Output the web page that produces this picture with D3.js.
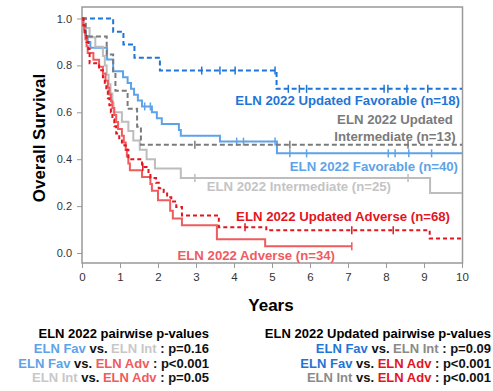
<!DOCTYPE html>
<meta charset="utf-8">
<style>
    body { margin: 0; background: #fff; }
    text { font-family: "Liberation Sans", Arial, sans-serif; }
    .curve { fill: none; stroke-width: 2px; }
    .axis path, .axis line { stroke: #999; }
    .axis text { fill: #333; font-size: 11px; }
</style>
<svg width="493" height="391"></svg>
<script src="https://d3js.org/d3.v7.min.js"></script>
<script>

    // Kaplan-Meier steps: step times (years) and survival
    var updFavT = [0, 0.82, 1.09, 1.38, 2.05, 5.12];
    var updFavS = [1, 0.944, 0.889, 0.833, 0.778, 0.70];
    var updFavC = [3.15, 3.63, 4.03, 5.08, 5.43, 5.72, 5.91, 7.95, 8.05, 8.55, 9.1];

    var favT = [0, 0.03, 0.06, 0.1, 0.15, 0.22, 0.66, 0.82, 1.08, 1.2, 1.29, 1.37, 1.47, 1.58, 1.84, 1.97, 2.1, 2.55, 2.6, 3.63, 5.13];
    var favS = [1, 0.975, 0.95, 0.925, 0.9, 0.875, 0.825, 0.775, 0.75, 0.725, 0.7, 0.675, 0.65, 0.625, 0.6, 0.575, 0.55, 0.525, 0.5, 0.475, 0.425];
    var favC = [1.65, 1.8, 4.07, 4.25, 5.08, 5.47, 5.91, 8.06, 8.24, 8.6, 9.2];

    var updIntT = [0, 0.1, 0.65, 0.82, 0.88, 1.2, 1.45, 1.55];
    var updIntS = [1, 0.923, 0.846, 0.769, 0.692, 0.615, 0.538, 0.462];
    var updIntC = [2.97, 5.47, 8.58];

    var intT = [0, 0.05, 0.2, 0.35, 0.55, 0.6, 0.65, 0.7, 0.75, 0.8, 0.83, 1.05, 1.22, 1.35, 1.52, 1.7, 1.92, 2.6, 9.16];
    var intS = [1, 0.96, 0.92, 0.88, 0.84, 0.80, 0.76, 0.72, 0.68, 0.64, 0.60, 0.56, 0.52, 0.48, 0.44, 0.40, 0.36, 0.32, 0.256];
    var intC = [2.97, 8.58];

    var updAdvT = [0, 0.04, 0.08, 0.12, 0.17, 0.2, 0.45, 0.55, 0.6, 0.64, 0.68, 0.72, 0.76, 0.8, 0.85, 0.9, 0.98, 1.05, 1.15, 1.22, 1.58, 1.75, 1.8, 1.95, 2.02, 2.15, 2.24, 2.35, 2.48, 2.63, 3.6, 4.85, 9.15];
    var updAdvS = [1, 0.97, 0.94, 0.90, 0.87, 0.809, 0.779, 0.75, 0.72, 0.69, 0.66, 0.63, 0.60, 0.57, 0.54, 0.51, 0.48, 0.46, 0.44, 0.40, 0.367, 0.34, 0.32, 0.30, 0.276, 0.26, 0.238, 0.22, 0.196, 0.16, 0.11, 0.097, 0.062];
    var updAdvC = [1.6, 4.29, 7.1, 8.19];

    var advT = [0, 0.03, 0.06, 0.09, 0.12, 0.15, 0.3, 0.45, 0.55, 0.62, 0.68, 0.72, 0.76, 0.8, 0.85, 0.9, 0.95, 1.05, 1.1, 1.15, 1.18, 1.22, 1.26, 1.58, 1.8, 1.84, 2.0, 2.32, 2.39, 2.63, 3.55, 4.82];
    var advS = [1, 0.971, 0.941, 0.912, 0.882, 0.853, 0.824, 0.794, 0.765, 0.735, 0.706, 0.676, 0.647, 0.618, 0.588, 0.559, 0.529, 0.5, 0.471, 0.441, 0.412, 0.382, 0.353, 0.324, 0.294, 0.265, 0.225, 0.18, 0.147, 0.118, 0.059, 0.029];
    var advC = [7.1];

    var xTicks = [0, 1, 2, 3, 4, 5, 6, 7, 8, 9, 10];
    var yTicks = [0, 0.2, 0.4, 0.6, 0.8, 1.0];

    var series = [
        {name: "ELN 2022 Favorable (n=40)", t: favT, s: favS, c: favC, end: 10, color: "#5ea3e8", dash: null},
        {name: "ELN 2022 Intermediate (n=25)", t: intT, s: intS, c: intC, end: 10, color: "#bdbdbd", dash: null},
        {name: "ELN 2022 Adverse (n=34)", t: advT, s: advS, c: advC, end: 7.1, color: "#ef5b5e", dash: null},
        {name: "ELN 2022 Updated Favorable (n=18)", t: updFavT, s: updFavS, c: updFavC, end: 10, color: "#1f75d6", dash: "5,3"},
        {name: "ELN 2022 Updated Intermediate (n=13)", t: updIntT, s: updIntS, c: updIntC, end: 10, color: "#7a7a7a", dash: "5,3"},
        {name: "ELN 2022 Updated Adverse (n=68)", t: updAdvT, s: updAdvS, c: updAdvC, end: 10, color: "#e3151e", dash: "4,3"}
    ];

    var svg = d3.select("svg");
    var x = d3.scaleLinear().domain([0, 10]).range([82, 462]);
    var y = d3.scaleLinear().domain([0, 1]).range([253, 18.5]);

    // frame
    svg.append("rect")
        .attr("x", 82).attr("y", 7).attr("width", 380.5).attr("height", 256)
        .attr("fill", "none").attr("stroke", "#999").attr("stroke-width", 1.5);

    svg.append("g").attr("class", "axis")
        .attr("transform", "translate(0,263)")
        .call(d3.axisBottom(x).tickValues(xTicks).tickSize(5).tickSizeOuter(0).tickPadding(5))
        .call(function (g) { g.select(".domain").remove(); })
        .selectAll("text").style("font-size", "11.5px");

    svg.append("g").attr("class", "axis")
        .attr("transform", "translate(82,0)")
        .call(d3.axisLeft(y).tickValues(yTicks).tickFormat(d3.format(".1f")).tickSize(5).tickPadding(5))
        .call(function (g) { g.select(".domain").remove(); });

    var line = d3.line()
        .x(function (d) { return x(d[0]); })
        .y(function (d) { return y(d[1]); })
        .curve(d3.curveStepAfter);

    function survAt(sr, t) {
        var i = d3.bisectRight(sr.t, t) - 1;
        return sr.s[Math.max(0, i)];
    }

    series.forEach(function (sr) {
        var pts = sr.t.map(function (t, i) { return [t, sr.s[i]]; });
        pts.push([sr.end, sr.s[sr.s.length - 1]]);
        svg.append("path")
            .attr("class", "curve")
            .attr("d", line(pts))
            .attr("stroke", sr.color)
            .attr("stroke-dasharray", sr.dash);

        svg.append("g").selectAll("line")
            .data(sr.c)
            .enter().append("line")
            .attr("x1", function (d) { return x(d); })
            .attr("x2", function (d) { return x(d); })
            .attr("y1", function (d) { return y(survAt(sr, d)) - 4; })
            .attr("y2", function (d) { return y(survAt(sr, d)) + 4; })
            .attr("stroke", sr.color)
            .attr("stroke-width", 1.5);
    });

    // curve labels
    var labels = [
        {lines: ["ELN 2022 Updated Favorable (n=18)"], x: 460, y: 105, anchor: "end", color: "#1f75d6"},
        {lines: ["ELN 2022 Updated", "Intermediate (n=13)"], x: 395, y: 124, anchor: "middle", color: "#7a7a7a"},
        {lines: ["ELN 2022 Favorable (n=40)"], x: 458, y: 171, anchor: "end", color: "#5ea3e8"},
        {lines: ["ELN 2022 Intermediate (n=25)"], x: 391, y: 191, anchor: "end", color: "#c4c4c4"},
        {lines: ["ELN 2022 Updated Adverse (n=68)"], x: 450, y: 221, anchor: "end", color: "#e3151e"},
        {lines: ["ELN 2022 Adverse (n=34)"], x: 335, y: 260, anchor: "end", color: "#ef5b5e"}
    ];
    labels.forEach(function (l) {
        var t = svg.append("text")
            .attr("x", l.x).attr("y", l.y)
            .attr("text-anchor", l.anchor)
            .attr("fill", l.color)
            .style("font-size", "13.2px").style("font-weight", "bold");
        l.lines.forEach(function (s, i) {
            t.append("tspan").attr("x", l.x).attr("dy", i ? 17 : 0).text(s);
        });
    });

    svg.append("text")
        .attr("transform", "translate(45,138) rotate(-90)")
        .attr("text-anchor", "middle")
        .style("font-size", "17px").style("font-weight", "bold")
        .text("Overall Survival");

    svg.append("text")
        .attr("x", 271).attr("y", 311)
        .attr("text-anchor", "middle")
        .style("font-size", "17px").style("font-weight", "bold")
        .text("Years");

    // pairwise p-values
    var leftTitle = "ELN 2022 pairwise p-values";
    var leftP = ["p=0.16", "p<0.001", "p=0.05"];
    var rightTitle = "ELN 2022 Updated pairwise p-values";
    var rightP = ["p=0.09", "p<0.001", "p<0.001"];
    var pairs = [["Fav", "Int"], ["Fav", "Adv"], ["Int", "Adv"]];

    function pBlock(xr, title, pv, cols) {
        var g = svg.append("g").style("font-size", "13px").style("font-weight", "bold");
        g.append("text").attr("x", xr).attr("y", 338).attr("text-anchor", "end").text(title);
        pairs.forEach(function (p, i) {
            var t = g.append("text").attr("x", xr).attr("y", 353 + i * 14.5).attr("text-anchor", "end");
            t.append("tspan").attr("fill", cols[p[0]]).text("ELN " + p[0]);
            t.append("tspan").attr("fill", "#111").text(" vs. ");
            t.append("tspan").attr("fill", cols[p[1]]).text("ELN " + p[1]);
            t.append("tspan").attr("fill", "#111").text(" : " + pv[i]);
        });
    }
    pBlock(209, leftTitle, leftP, {Fav: "#5ea3e8", Int: "#c8c8c8", Adv: "#ef5b5e"});
    pBlock(491, rightTitle, rightP, {Fav: "#1f75d6", Int: "#8a8a8a", Adv: "#e3151e"});

</script>
